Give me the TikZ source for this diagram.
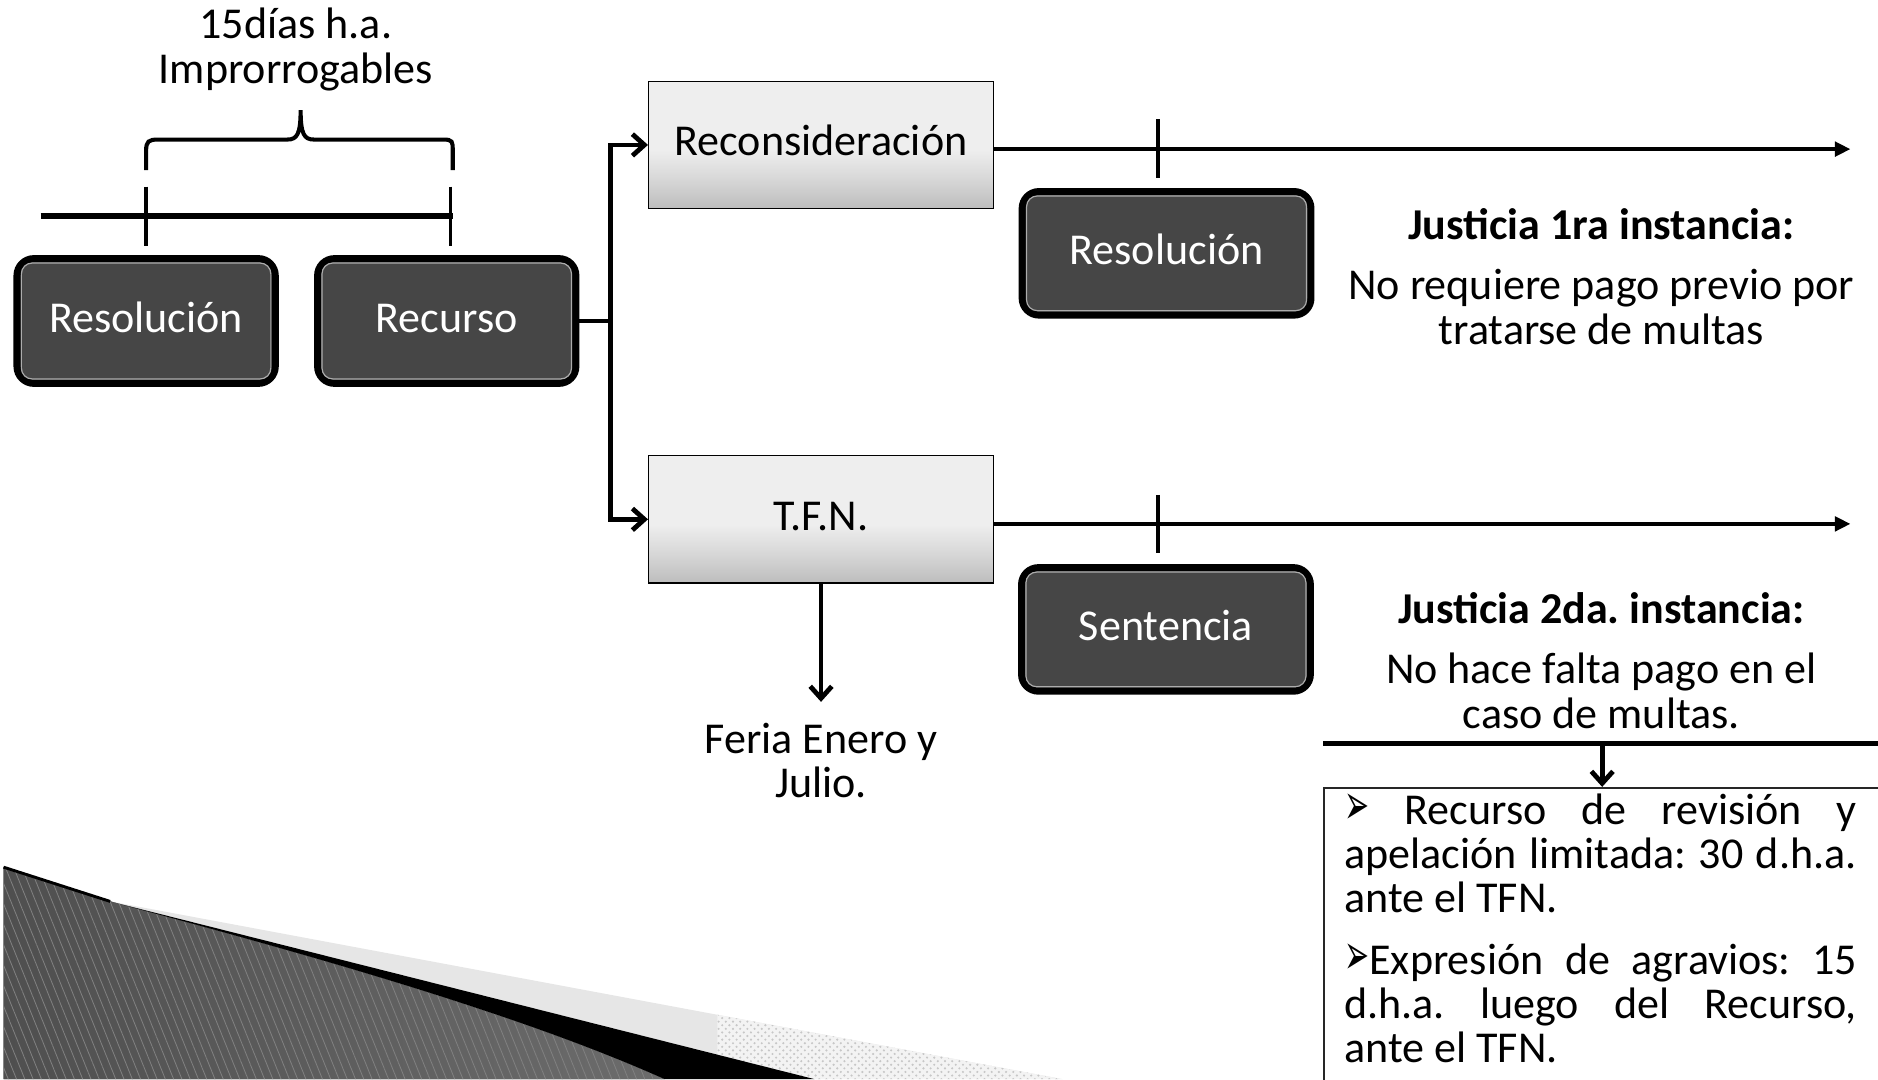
\documentclass[tikz,border=0pt]{standalone}
\usepackage{fontspec}
\setmainfont{Carlito}
\newfontfamily\dejavu{DejaVu Sans}
\usetikzlibrary{arrows.meta,patterns,patterns.meta}
\definecolor{boxdark}{HTML}{464646}
\definecolor{shB}{HTML}{BDBDBD}
\definecolor{shM}{HTML}{D8D8D8}
\definecolor{shT}{HTML}{EEEEEE}
\definecolor{hatchL}{HTML}{4F4F4F}
\definecolor{hatchM}{HTML}{A3A3A3}
\definecolor{hatchR}{HTML}{6C6C6C}
\definecolor{lightband}{HTML}{E6E6E6}
\pgfdeclareverticalshading{boxshade}{100bp}{color(0bp)=(shB); color(25bp)=(shB); color(37bp)=(shM); color(48bp)=(shT); color(100bp)=(shT)}
\newcommand{\mybul}{\scalebox{1.25}[2.4]{\dejavu\fontsize{10}{10}\selectfont ➢}}
\frenchspacing
\begin{document}
\frenchspacing
\begin{tikzpicture}[x=0.5pt,y=-0.5pt,
  lbl/.style={font=\fontsize{18.4}{22}\selectfont\frenchspacing, inner sep=0pt, anchor=base},
  lblw/.style={lbl, anchor=base west},
  head/.style={lbl, font=\fontsize{18.4}{22}\selectfont\bfseries\frenchspacing},
  darkbox/.style={draw=black, line width=3pt, fill=boxdark, rounded corners=7pt, text=white,
     font=\fontsize{18.4}{22}\selectfont, text height=9.2pt, text depth=0pt, inner sep=0pt},
  innerline/.style={draw=gray!65, line width=0.5pt, rounded corners=4.5pt},
  lightbox/.style={draw=black, line width=0.6pt, shading=boxshade,
     font=\fontsize{18.4}{22}\selectfont, text height=9pt, text depth=0pt, inner sep=0pt},
  conn/.style={draw=black, line width=2pt},
  barb/.style={-{Straight Barb[length=5pt,width=9pt]}},
  longline/.style={draw=black, line width=1.8pt, -{Triangle[length=6.5pt,width=6pt]}},
  tick/.style={draw=black, line width=1.5pt},
  brace/.style={draw=black, line width=1.7pt, line cap=butt}
]
\useasboundingbox (0,0) rectangle (1568,901);
\clip (0,0) rectangle (1568,901);

% ---- bottom-left decoration ----
\fill[left color=hatchL, middle color=hatchM, right color=hatchR]
  (3,724) -- (92,752.6) .. controls (250,795) and (430,845) .. (555,901) -- (3,901) -- cycle;
\fill[pattern={Lines[angle=-68,distance=3.2pt,line width=0.35pt]}, pattern color=black!50]
  (3,724) -- (92,752.6) .. controls (250,795) and (430,845) .. (555,901) -- (3,901) -- cycle;
\fill[lightband] (92,752.6) -- (887,901) -- (680,901) -- cycle;
\begin{scope}
  \clip (599,800) rectangle (900,901);
  \fill[white!50!lightband] (92,752.6) -- (887,901) -- (680,901) -- cycle;
  \fill[pattern=crosshatch dots, pattern color=black!22] (92,752.6) -- (887,901) -- (680,901) -- cycle;
\end{scope}
\fill[black] (92,752.6) -- (680,901) -- (555,901) .. controls (430,845) and (250,795) .. cycle;
\draw[black, line width=1.2pt] (3,724) -- (92,752.6);

% ---- title and brace ----
\node[lbl] (t1) at (247,32) {15días h.a.};
\node[lbl] (t2) at (247,69.6) {Improrrogables};
\draw[brace] (122,142) -- (122,126) .. controls (122,118) and (124,116.5) .. (132,116.5)
  -- (240,116.5) .. controls (248,116.5) and (251,112) .. (251,92)
  .. controls (251,112) and (254,116.5) .. (262,116.5) -- (370,116.5)
  .. controls (378,116.5) and (378,118) .. (378,126) -- (378,142);
\draw[black, line width=2.2pt] (34,180.3) -- (378,180.3);
\draw[tick] (122,155.8) -- (122,205.3);
\draw[tick] (376,155.8) -- (376,205.3);

% ---- boxes ----
\node[darkbox, minimum width=107.75pt, minimum height=52pt] (res1) at (122,268) {Resolución};
\node[darkbox, minimum width=107.75pt, minimum height=52pt] (recu) at (373,268) {Recurso};
\node[darkbox, minimum width=120.5pt, minimum height=51.5pt] (res2) at (974,211.5) {Resolución};
\node[darkbox, minimum width=120.5pt, minimum height=51.5pt] (sent) at (973.5,525.5) {Sentencia};
\foreach \n in {res1,recu,res2,sent}{
  \draw[innerline] ([shift={(3.3pt,-3.3pt)}]\n.north west) rectangle ([shift={(-3.3pt,3.3pt)}]\n.south east);
}
\node[lightbox, minimum width=143.9pt, minimum height=53.1pt] (recon) at (685.5,121) {Reconsideración};
\node[lightbox, minimum width=143.9pt, minimum height=53.1pt] (tfn) at (685.5,433.6) {T.F.N.};

% ---- connectors ----
\coordinate (j) at (510,268);
\draw[conn] (recu.east) -- (j);
\draw[conn, barb] (j) |- (recon.west);
\draw[conn, barb] (j) |- (tfn.west);

\coordinate (e1) at (1545,124.5);
\draw[longline] ([yshift=-1.75pt]recon.east) -- (e1);
\draw[tick] (967,99.6) -- (967,149);
\coordinate (e2) at (1545,437.4);
\draw[longline] ([yshift=-1.9pt]tfn.east) -- (e2);
\draw[tick] (967,413.2) -- (967,462);

\coordinate (f1) at (685.5,586);
\draw[conn, barb] (tfn.south) -- (f1);
\node[lbl] (fer1) at (685.5,629) {Feria Enero y};
\node[lbl] (fer2) at (685.5,666) {Julio.};

% ---- right column ----
\node[head] (j1) at (1337,200.3) {Justicia 1ra instancia:};
\node[lbl] (j1a) at (1337,250.4) {No requiere pago previo por};
\node[lbl] (j1b) at (1337,288) {tratarse de multas};
\node[head] (j2) at (1337,520.3) {Justicia 2da. instancia:};
\node[lbl] (j2a) at (1337,570.4) {No hace falta pago en el};
\node[lbl] (j2b) at (1337,608) {caso de multas.};

\coordinate (h1) at (1105,620.5);
\coordinate (h2) at (1580,620.5);
\draw[black, line width=2pt] (h1) -- (h2);
\node[draw=black!85, line width=0.7pt, anchor=north west, minimum width=250pt, minimum height=150pt, inner sep=0pt] (rbox) at (1105,657) {};
\coordinate (a1) at (1337.7,620.5);
\draw[conn, barb] (a1) -- (a1 |- rbox.north);

\node[lblw] (b1) at (1122,688.6) {\makebox[214pt][s]{\mybul{} Recurso de revisión y}};
\node[lblw] (b2) at (1122,725.2) {\makebox[214pt][s]{apelación limitada: 30 d.h.a.}};
\node[lblw] (b3) at (1122,761.8) {ante el TFN.};
\node[lblw] (b4) at (1122,814) {\makebox[214pt][s]{\mybul Expresión de agravios: 15}};
\node[lblw] (b5) at (1122,850.6) {\makebox[214pt][s]{d.h.a. luego del Recurso,}};
\node[lblw] (b6) at (1122,887.2) {ante el TFN.};
\end{tikzpicture}
\end{document}
